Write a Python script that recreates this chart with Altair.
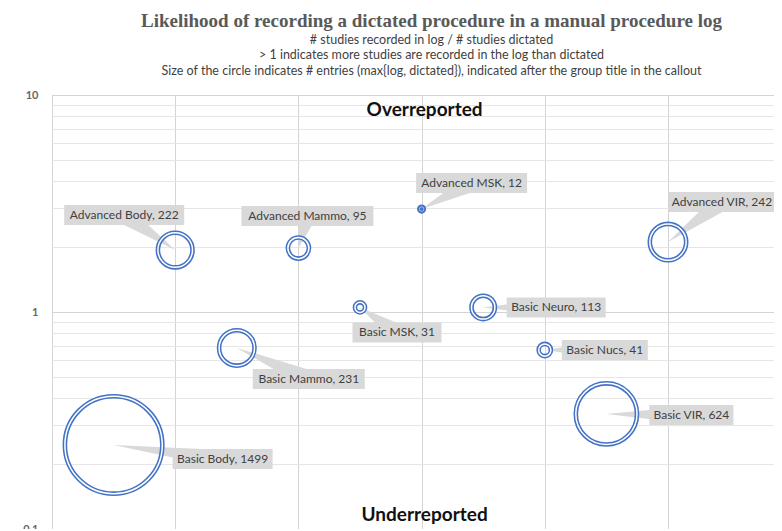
import math
import altair as alt
import pandas as pd

# ---- data ----
groups = ["Advanced Body", "Advanced Mammo", "Advanced MSK", "Advanced VIR",
          "Basic Body", "Basic Mammo", "Basic MSK", "Basic Neuro", "Basic Nucs", "Basic VIR"]
x_pos = [1, 2, 3, 5, 0.5, 1.5, 2.5, 3.5, 4, 4.5]
ratio = [1.93, 1.97, 2.98, 2.10, 0.244, 0.683, 1.05, 1.05, 0.668, 0.339]
entries = [222, 95, 12, 242, 1499, 231, 31, 113, 41, 624]

# ---- callout layout (pixel offset of callout box centre from bubble, box width) ----
callout_dx = [-51, 9, 50, 54, 109, 72, 37, 73, 60, 85]
callout_dy = [-35, -32, -26, -40, 14, 31, 25, 0, 0, 1]
callout_w = [120, 132, 111, 106, 100, 112, 89, 99, 86, 84]
BOX_H = 20
WEDGE_W = 18

title_text = "Likelihood of recording a dictated procedure in a manual procedure log"
subtitle_lines = [
    "# studies recorded in log / # studies dictated",
    "> 1 indicates more studies are recorded in the log than dictated",
    "Size of the circle indicates # entries (max{log, dictated}), indicated after the group title in the callout",
]
region_labels = ["Overreported", "Underreported"]
y_grid = [0.1, 0.2, 0.3, 0.4, 0.5, 0.6, 0.7, 0.8, 0.9,
          1, 2, 3, 4, 5, 6, 7, 8, 9, 10]

BLUE = "#4472C4"
GREY_BOX = "#d9d9d9"
PLOT_W, PLOT_H = 722, 434
X_MAX = PLOT_W / 123.2
MAX_R = 51  # outer radius of the largest bubble (px)

df = pd.DataFrame({"group": groups, "x": x_pos, "ratio": ratio, "entries": entries})
df["label"] = [f"{g}, {n}" for g, n in zip(groups, entries)]

X = alt.X("x:Q", scale=alt.Scale(domain=[0, X_MAX], nice=False, zero=False),
          axis=alt.Axis(values=[0, 1, 2, 3, 4, 5], labels=False, ticks=False, domain=False,
                        title=None, grid=True, gridColor="#d4d4d4", gridWidth=1))
Y = alt.Y("ratio:Q", scale=alt.Scale(type="log", domain=[0.1, 10], nice=False),
          axis=alt.Axis(values=y_grid, format="~g",
                        labelExpr="datum.value == 0.1 || datum.value == 1 || datum.value == 10 ? datum.label : ''",
                        ticks=False, domain=False, title=None,
                        gridColor={"condition": {"test": "datum.value == 0.1 || datum.value == 1 || datum.value == 10",
                                                 "value": "#d4d4d4"}, "value": "#e6e6e6"},
                        labelFont="Lato", labelFontSize=11, labelFontWeight="bold", labelColor="#666666",
                        labelPadding=14, minExtent=39, maxExtent=39, labelOverlap=False, labelFlush=False))

base = alt.Chart(df)

layers = []

# callout wedges, boxes and texts
for i, g in enumerate(groups):
    dx, dy, w = callout_dx[i], callout_dy[i], callout_w[i]
    d = math.hypot(dx, dy)
    px, py = -dy / d, dx / d
    R = 100.0
    pts = [(0, 0), (dx + px * WEDGE_W / 2, dy + py * WEDGE_W / 2), (dx - px * WEDGE_W / 2, dy - py * WEDGE_W / 2)]
    path = "M{:.4f},{:.4f} L{:.4f},{:.4f} L{:.4f},{:.4f} Z".format(*(c / R for p in pts for c in p))
    sel = base.transform_filter(alt.datum.group == g)
    layers.append(sel.mark_point(shape=path, size=(2 * R) ** 2, filled=True, color=GREY_BOX,
                                 opacity=1, strokeWidth=0).encode(x=X, y=Y))
    layers.append(sel.mark_rect(color=GREY_BOX, xOffset=dx - w / 2, x2Offset=dx + w / 2,
                                yOffset=dy - BOX_H / 2, y2Offset=dy + BOX_H / 2)
                  .encode(x=X, x2="x:Q", y=Y, y2="ratio:Q"))
    layers.append(sel.mark_text(dx=dx, dy=dy, align="center", baseline="middle", font="Lato",
                                fontSize=12, color="#404040")
                  .encode(x=X, y=Y, text="label:N"))

# double-ring bubbles: area proportional to entries
sized = base.transform_calculate(
    r_c=f"max({MAX_R} * sqrt(datum.entries / 1499) - 2.3, 0.6)"
).transform_calculate(
    sz="4 * datum.r_c * datum.r_c",
    gap="datum.r_c < 3 ? 0.5 : 1.5",
)
layers.append(sized.mark_point(shape="circle", filled=False, stroke=BLUE, strokeWidth=4.6, opacity=1)
              .encode(x=X, y=Y, size=alt.Size("sz:Q", scale=None, legend=None)))
layers.append(sized.mark_point(shape="circle", filled=False, stroke="white", opacity=1)
              .encode(x=X, y=Y, size=alt.Size("sz:Q", scale=None, legend=None),
                      strokeWidth=alt.StrokeWidth("gap:Q", scale=None, legend=None)))

# region annotations
reg = alt.Chart(pd.DataFrame({"t": region_labels, "py": [15, 420]}))
layers.append(reg.mark_text(font="Lato", fontSize=19, fontWeight="bold", color="#111111",
                            align="center", baseline="middle", dx=3)
              .encode(x=alt.datum(3), y=alt.Y("py:Q", scale=None), text="t:N"))

chart = alt.layer(*layers).properties(
    width=PLOT_W, height=PLOT_H,
    autosize=alt.AutoSizeParams(type="none"),
    padding={"left": 44, "top": 87, "right": 0, "bottom": 0},
    title=alt.TitleParams(text=title_text, subtitle=subtitle_lines, anchor="middle", frame="group",
                          dx=18.5, font="Liberation Serif", fontSize=19, fontWeight="bold", color="#595959",
                          subtitleFont="Lato", subtitleFontSize=12.5, subtitleColor="#3f3f3f",
                          subtitleLineHeight=15.5, subtitlePadding=3, offset=12),
).configure_view(strokeWidth=0).configure(background="white")

chart.save("out.html", embed_options={"renderer": "svg", "actions": False})
